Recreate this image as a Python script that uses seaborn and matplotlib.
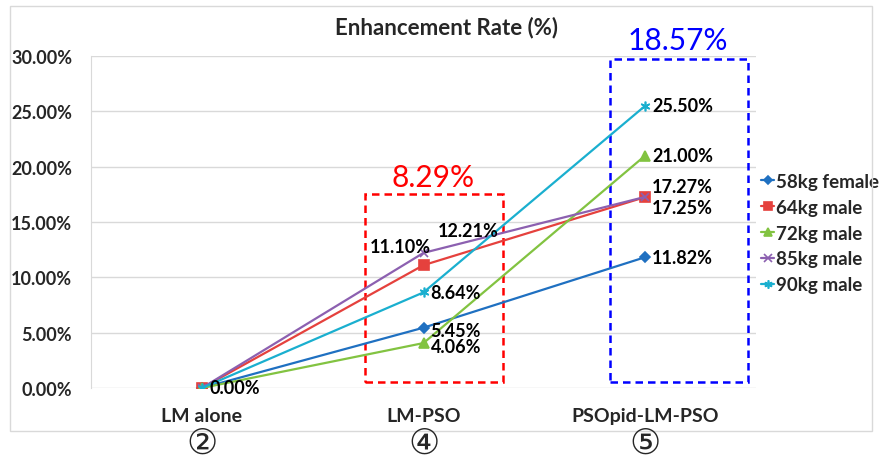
import matplotlib
matplotlib.use("Agg")
import matplotlib.pyplot as plt
from matplotlib.patches import Rectangle
from matplotlib.ticker import FuncFormatter, MultipleLocator
import pandas as pd
import seaborn as sns

# data
methods = ["LM alone", "LM-PSO", "PSOpid-LM-PSO"]
method_marks = ["②", "④", "⑤"]
series = ["58kg female", "64kg male", "72kg male", "85kg male", "90kg male"]
rate_58f = [0.00, 5.45, 11.82]
rate_64m = [0.00, 11.10, 17.25]
rate_72m = [0.00, 4.06, 21.00]
rate_85m = [0.00, 12.21, 17.27]
rate_90m = [0.00, 8.64, 25.50]
gain_lm_pso = 8.29
gain_psopid = 18.57

colors = ["#1F70C1", "#E5413D", "#82C341", "#8C60B0", "#1AAFCF"]
markers = ["D", "s", "^", "x", (6, 2, 0)]
marker_sizes = [5, 6.5, 7, 6, 7]

# label offsets in pixels (dx, dy, ha) per series / category
label_offsets = {
    "58kg female": [None, (7, -3, "left"), (7, 0, "left")],
    "64kg male": [None, (7, 19, "right"), (7, -10, "left")],
    "72kg male": [(8, 0, "left"), (7, -3, "left"), (7, 0, "left")],
    "85kg male": [None, (14, 22, "left"), (7, 10, "left")],
    "90kg male": [None, (7, 0, "left"), (7, 0, "left")],
}

values = [rate_58f, rate_64m, rate_72m, rate_85m, rate_90m]

sns.set_style("white")
plt.rcParams["font.family"] = ["Lato", "DejaVu Sans"]

fig = plt.figure(figsize=(8.8, 4.64), dpi=100)
ax = fig.add_axes([91 / 880, 1 - 389 / 464, 665 / 880, 332 / 464])

for name, vals, col, mk, ms in zip(series, values, colors, markers, marker_sizes):
    df = pd.DataFrame({"Method": methods, "Rate": vals})
    sns.lineplot(data=df, x="Method", y="Rate", color=col, marker=mk,
                 markersize=ms, markeredgewidth=1.2, markeredgecolor=col,
                 linewidth=1.6, sort=False, label=name, ax=ax)

for name, vals, col in zip(series, values, colors):
    for i, v in enumerate(vals):
        off = label_offsets[name][i]
        if off is None:
            continue
        dx, dy, ha = off
        ax.annotate(f"{v:.2f}%", (i, v), xytext=(dx, dy),
                    textcoords="offset pixels", ha=ha, va="center",
                    fontsize=13, fontweight="bold", color="black")

ax.set_xlim(-0.5, 2.5)
ax.set_ylim(0, 30)
ax.yaxis.set_major_locator(MultipleLocator(5))
ax.yaxis.set_major_formatter(FuncFormatter(lambda v, p: f"{v:.2f}%"))
ax.grid(axis="y", color="#D9D9D9", linewidth=1)
ax.set_axisbelow(True)
for s in ["top", "right", "bottom"]:
    ax.spines[s].set_visible(False)
ax.spines["left"].set_color("#D9D9D9")
ax.tick_params(axis="y", length=0, pad=13.5, labelsize=13)
ax.tick_params(axis="x", length=0, pad=14, labelsize=14)
for lbl in ax.get_xticklabels() + ax.get_yticklabels():
    lbl.set_fontweight("bold")
ax.set_xlabel("")
ax.set_ylabel("")

# dashed highlight boxes
ax.add_patch(Rectangle((0.736, 0.55), 0.623, 16.95, fill=False,
                       edgecolor="#FF0000", linestyle=(0, (3, 2)),
                       linewidth=1.8, clip_on=False))
ax.add_patch(Rectangle((1.842, 0.55), 0.62, 29.15, fill=False,
                       edgecolor="#0000FF", linestyle=(0, (3, 2)),
                       linewidth=1.8, clip_on=False))
ax.text(1.043, 19.1, f"{gain_lm_pso:.2f}%", color="#FF0000", fontsize=21.5,
        ha="center", va="center")
ax.text(2.149, 31.45, f"{gain_psopid:.2f}%", color="#0000FF", fontsize=21.5,
        ha="center", va="center", clip_on=False)

fig.text(446 / 880, 1 - 28 / 464, "Enhancement Rate (%)", fontsize=16,
         fontweight="bold", ha="center", va="center")

handles, labels = ax.get_legend_handles_labels()
ax.legend(handles=handles, labels=labels, loc="upper left",
          bbox_to_anchor=(761 / 880, 1 - 174 / 464),
          bbox_transform=fig.transFigure, frameon=False, borderpad=0,
          borderaxespad=0, handlelength=0.7, handletextpad=0.12,
          labelspacing=0.47, markerscale=0.85,
          prop={"weight": "bold", "size": 13.5})

# circled step numbers under the chart
for i, mk in enumerate(method_marks):
    x_fig = (91 + (i + 0.5) * 665 / 3) / 880
    fig.text(x_fig, 1 - 444 / 464, mk, fontsize=25,
             ha="center", va="center", family=["DejaVu Sans"])

# chart frame
fig.patches.append(Rectangle((10 / 880, 1 - 432 / 464), 862 / 880,
                             425 / 464, transform=fig.transFigure,
                             fill=False, edgecolor="#D9D9D9", linewidth=1))

fig.savefig("out.png", dpi=100)
